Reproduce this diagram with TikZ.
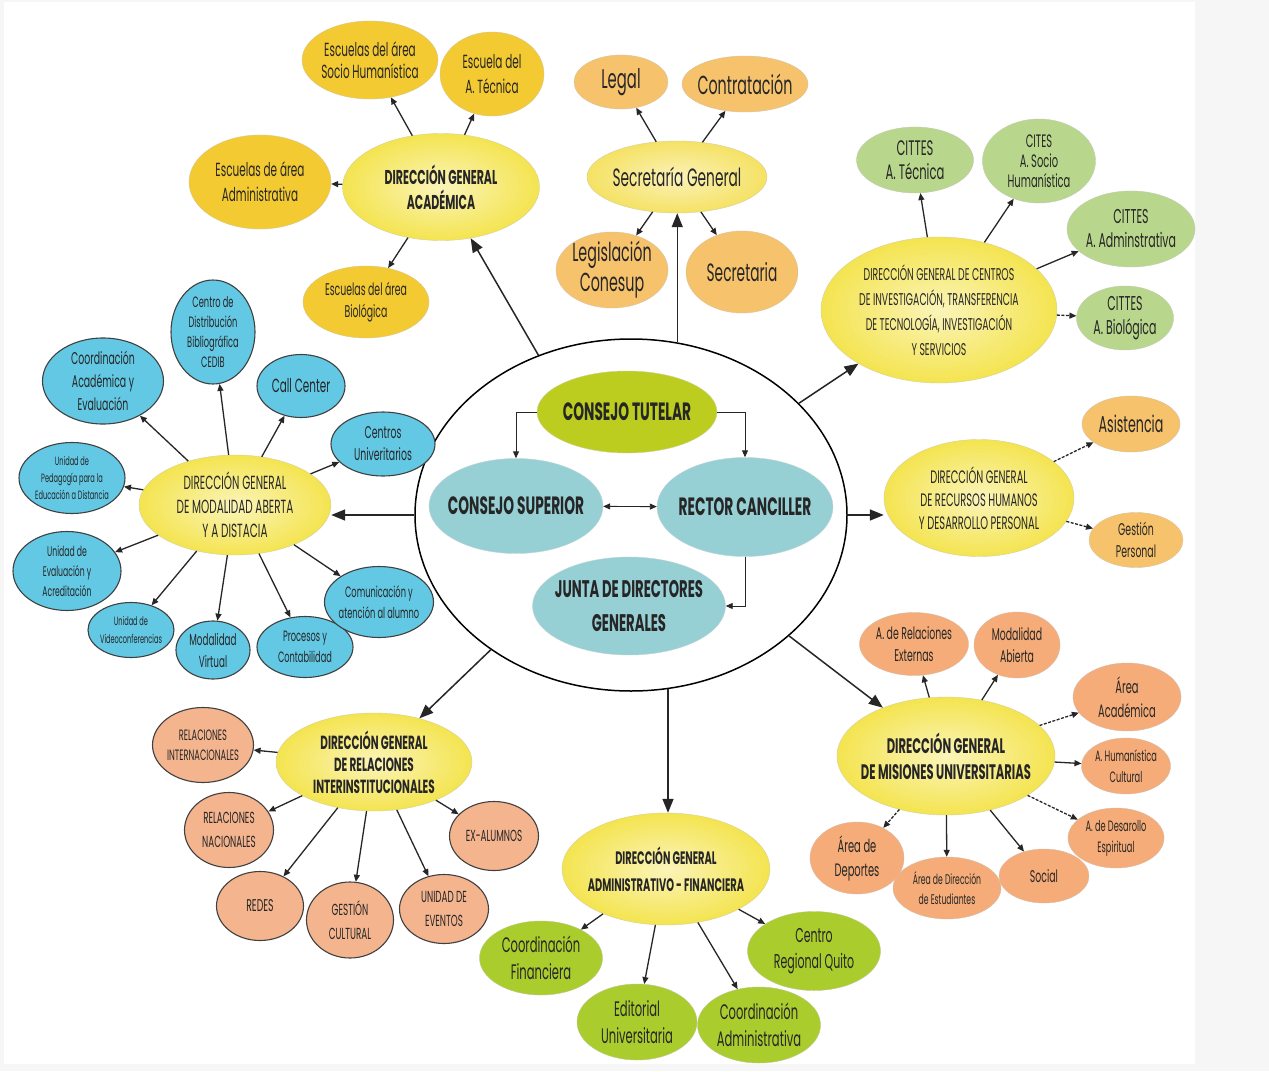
\documentclass[tikz,border=0pt]{standalone}
\usepackage{fontspec}
\setmainfont{Poppins}[FakeStretch=0.55]
\usetikzlibrary{shapes.geometric,arrows.meta}

\definecolor{dgyel}{RGB}{244,228,80}
\definecolor{sgyel}{RGB}{245,226,100}
\definecolor{gold}{RGB}{244,202,50}
\definecolor{peach}{RGB}{246,194,108}
\definecolor{salmon}{RGB}{245,172,120}
\definecolor{salmonr}{RGB}{243,180,142}
\definecolor{sage}{RGB}{184,215,140}
\definecolor{lime}{RGB}{170,205,45}
\definecolor{sky}{RGB}{98,200,228}
\definecolor{teal}{RGB}{150,208,213}
\definecolor{tutelar}{RGB}{188,205,32}
\definecolor{backg}{RGB}{246,246,246}

\newcommand{\fs}[2]{\fontsize{#1}{#2}\selectfont}
% name, style, position, width, height, font, text
\newcommand{\orgnode}[7]{%
  \node[#2, minimum width=#4, minimum height=#5] (#1) at (#3) {};
  \node[txt, font=#6] (#1-t) at (#1) {#7};}

\tikzset{
  bub/.style={ellipse, inner sep=0pt},
  txt/.style={align=center, inner sep=0pt, text=black!85},
  dg/.style={bub, draw=dgyel!70!black!50, shade, shading=radial,
    inner color=dgyel!40!white, outer color=dgyel},
  sgen/.style={bub, draw=sgyel!70!black!50, shade, shading=radial,
    inner color=sgyel!45!white, outer color=sgyel},
  acad/.style={bub, fill=gold, draw=gold!70!black!50},
  secr/.style={bub, fill=peach, draw=peach!70!black!50},
  cittes/.style={bub, fill=sage, draw=sage!70!black!50},
  rrhh/.style={bub, fill=peach, draw=peach!70!black!50},
  mision/.style={bub, fill=salmon, draw=salmon!70!black!50},
  relac/.style={bub, fill=salmonr, draw=black!75, line width=1.1pt},
  admfin/.style={bub, fill=lime, draw=lime!70!black!50},
  abierta/.style={bub, fill=sky, draw=black!75, line width=1.1pt},
  junta/.style={bub, fill=teal, draw=teal!70!black!40},
  tutor/.style={bub, fill=tutelar, draw=tutelar!70!black!40},
  ring/.style={bub, fill=white, draw=black, line width=1.5pt},
  arr/.style={-{Triangle[length=7pt,width=6pt]}, line width=1.3pt, black!85},
  dasharr/.style={arr, dash pattern=on 3pt off 1.5pt},
  thinarr/.style={-{Triangle[length=7pt,width=6pt]}, line width=0.9pt, black!85},
  bigarr/.style={-{Triangle[length=14pt,width=11pt]}, line width=1.5pt, black!85},
}

\begin{document}
\begin{tikzpicture}[x=1pt,y=-1pt]
  % page and margins
  \fill[backg] (0,0) rectangle (1269,1071);
  \fill[white] (4,2) rectangle (1195,1064);
  \useasboundingbox (0,0) rectangle (1269,1071);

  % consejos
  \orgnode{core}{ring}{631,515}{432}{352}{}{}
  \orgnode{ct}{tutor}{627,412}{180}{82}{\fs{25}{30}\bfseries}{CONSEJO TUTELAR}
  \orgnode{cs}{junta}{516,506}{174}{95}{\fs{25}{30}\bfseries}{CONSEJO SUPERIOR}
  \orgnode{rc}{junta}{745,507}{176}{99}{\fs{25}{30}\bfseries}{RECTOR CANCILLER}
  \orgnode{jd}{junta}{629,606}{193}{98}{\fs{24}{34}\bfseries}{JUNTA DE DIRECTORES\\GENERALES}
  \draw[thinarr] (ct.west) -| (cs.north);
  \draw[thinarr] (ct.east) -| (rc.north);
  \draw[thinarr, {Triangle[length=7pt,width=6pt]}-{Triangle[length=7pt,width=6pt]}] (cs) -- (rc);
  \draw[thinarr] (rc.south) |- (jd.east);

  % direcciones generales
  \orgnode{dga}{dg}{441,187}{197}{107}{\fs{20}{25}\bfseries}{DIRECCIÓN GENERAL\\ACADÉMICA}
  \orgnode{sg}{sgen}{677,177}{180}{72}{\fs{25}{30}}{Secretaría General}
  \orgnode{dgc}{dg}{939,310}{236}{146}{\fs{17}{25}}{DIRECCIÓN GENERAL DE CENTROS\\DE INVESTIGACIÓN, TRANSFERENCIA\\DE TECNOLOGÍA, INVESTIGACIÓN\\Y SERVICIOS}
  \orgnode{dgh}{dg}{979,498}{190}{117}{\fs{18}{23}}{DIRECCIÓN GENERAL\\DE RECURSOS HUMANOS\\Y DESARROLLO PERSONAL}
  \orgnode{mis}{dg}{946,756}{218}{118}{\fs{21}{26}\bfseries}{DIRECCIÓN GENERAL\\DE MISIONES UNIVERSITARIAS}
  \orgnode{af}{dg}{666,869}{208}{112}{\fs{18}{27}\bfseries}{DIRECCIÓN GENERAL\\ADMINISTRATIVO - FINANCIERA}
  \orgnode{rel}{dg}{374,762}{196}{98}{\fs{19}{22}\bfseries}{DIRECCIÓN GENERAL\\DE RELACIONES\\INTERINSTITUCIONALES}
  \orgnode{mad}{dg}{235,505}{192}{100}{\fs{19}{24}}{DIRECCIÓN GENERAL\\DE MODALIDAD ABERTA\\Y A DISTACIA}

  \draw[bigarr] (core) -- (dga);
  \draw[bigarr] (core.75) -- (core.75 |- sg.south);
  \draw[bigarr] (core) -- (dgc);
  \draw[bigarr] (core.east) -- (core.east -| dgh.west);
  \draw[bigarr] (core) -- (mis);
  \draw[bigarr] (core.-78) -- (core.-78 |- af.north);
  \draw[bigarr] (core) -- (rel);
  \draw[bigarr] (core.west) -- (core.west -| mad.east);

  % academica
  \orgnode{a1}{acad}{370,60}{136}{78}{\fs{19}{22}}{Escuelas del área\\Socio Humanística}
  \orgnode{a2}{acad}{492,74}{104}{84}{\fs{19}{25}}{Escuela del\\A. Técnica}
  \orgnode{a3}{acad}{260,182}{142}{94}{\fs{19}{25}}{Escuelas de área\\Administrativa}
  \orgnode{a4}{acad}{366,302}{126}{72}{\fs{17}{22}}{Escuelas del área\\Biológica}
  \foreach \k in {a1,a2,a3,a4} \draw[arr] (dga) -- (\k);

  % secretaria
  \orgnode{s1}{secr}{621,82}{94}{54}{\fs{27}{30}}{Legal}
  \orgnode{s2}{secr}{745,84}{126}{56}{\fs{26}{30}}{Contratación}
  \orgnode{s3}{secr}{612,270}{112}{76}{\fs{26}{30}}{Legislación\\Conesup}
  \orgnode{s4}{secr}{742,272}{112}{82}{\fs{25}{30}}{Secretaria}
  \foreach \k in {s1,s2,s3,s4} \draw[arr] (sg) -- (\k);

  % centros de investigacion
  \orgnode{c1}{cittes}{915,160}{117}{66}{\fs{21}{24}}{CITTES\\A. Técnica}
  \orgnode{c2}{cittes}{1039,161}{113}{84}{\fs{18}{20}}{CITES\\A. Socio\\Humanística}
  \orgnode{c3}{cittes}{1131,229}{128}{76}{\fs{20}{24}}{CITTES\\A. Adminstrativa}
  \orgnode{c4}{cittes}{1125,318}{97}{64}{\fs{20}{24}}{CITTES\\A. Biológica}
  \foreach \k in {c1,c2,c3} \draw[arr] (dgc) -- (\k);
  \draw[dasharr] (dgc) -- (c4);

  % recursos humanos
  \orgnode{h1}{rrhh}{1131,424}{98}{56}{\fs{23}{28}}{Asistencia}
  \orgnode{h2}{rrhh}{1136,540}{94}{55}{\fs{17}{22}}{Gestión\\Personal}
  \foreach \k in {h1,h2} \draw[dasharr] (dgh) -- (\k);

  % misiones universitarias
  \orgnode{m1}{mision}{914,644}{109}{63}{\fs{17}{22}}{A. de Relaciones\\Externas}
  \orgnode{m2}{mision}{1017,645}{86}{66}{\fs{17}{22}}{Modalidad\\Abierta}
  \orgnode{m3}{mision}{1127,697}{108}{68}{\fs{18}{24}}{Área\\Académica}
  \orgnode{m4}{mision}{1126,766}{89}{56}{\fs{15}{21}}{A. Humanística\\Cultural}
  \orgnode{m5}{mision}{1116,838}{96}{60}{\fs{15}{21}}{A. de Desarollo\\Espiritual}
  \orgnode{m6}{mision}{1044,876}{90}{54}{\fs{17}{22}}{Social}
  \orgnode{m7}{mision}{947,888}{108}{62}{\fs{14}{20}}{Área de Dirección\\de Estudiantes}
  \orgnode{m8}{mision}{857,858}{94}{72}{\fs{18}{24}}{Área de\\Deportes}
  \foreach \k in {m1,m2,m4,m6,m7} \draw[arr] (mis) -- (\k);
  \foreach \k in {m3,m5,m8} \draw[dasharr] (mis) -- (\k);

  % administrativo - financiera
  \orgnode{f1}{admfin}{541,958}{123}{74}{\fs{21}{27}}{Coordinación\\Financiera}
  \orgnode{f2}{admfin}{637,1022}{120}{76}{\fs{21}{27}}{Editorial\\Universitaria}
  \orgnode{f3}{admfin}{759,1025}{123}{76}{\fs{21}{27}}{Coordinación\\Administrativa}
  \orgnode{f4}{admfin}{814,951}{133}{79}{\fs{20}{26}}{Centro\\Regional Quito}
  \foreach \k in {f1,f2,f3,f4} \draw[arr] (af) -- (\k);

  % relaciones interinstitucionales
  \orgnode{r1}{relac}{203,745}{101}{75}{\fs{15}{20}}{RELACIONES\\INTERNACIONALES}
  \orgnode{r2}{relac}{229,830}{89}{75}{\fs{16}{24}}{RELACIONES\\NACIONALES}
  \orgnode{r3}{relac}{260,906}{87}{69}{\fs{17}{22}}{REDES}
  \orgnode{r4}{relac}{350,920}{87}{76}{\fs{16}{24}}{GESTIÓN\\CULTURAL}
  \orgnode{r5}{relac}{444,909}{89}{69}{\fs{16}{24}}{UNIDAD DE\\EVENTOS}
  \orgnode{r6}{relac}{494,836}{89}{69}{\fs{16}{22}}{EX-ALUMNOS}
  \foreach \k in {r1,r2,r3,r4,r5,r6} \draw[arr] (rel) -- (\k);

  % modalidad abierta y a distancia
  \orgnode{d1}{abierta}{213,332}{84}{104}{\fs{15}{20}}{Centro de\\Distribución\\Bibliográfica\\CEDIB}
  \orgnode{d2}{abierta}{301,386}{88}{63}{\fs{19}{24}}{Call Center}
  \orgnode{d3}{abierta}{103,381}{121}{86}{\fs{17}{23}}{Coordinación\\Académica y\\Evaluación}
  \orgnode{d4}{abierta}{72,478}{106}{71}{\fs{12}{17}}{Unidad de\\Pedagogía para la\\Educación a Distancia}
  \orgnode{d5}{abierta}{67,571}{108}{79}{\fs{14}{20}}{Unidad de\\Evaluación y\\Acreditación}
  \orgnode{d6}{abierta}{131,630}{86}{55}{\fs{12}{18}}{Unidad de\\Videoconferencias}
  \orgnode{d7}{abierta}{213,650}{74}{58}{\fs{16}{22}}{Modalidad\\Virtual}
  \orgnode{d8}{abierta}{305,647}{96}{61}{\fs{15}{21}}{Procesos y\\Contabilidad}
  \orgnode{d9}{abierta}{379,602}{109}{71}{\fs{15}{21}}{Comunicación y\\atención al alumno}
  \orgnode{d10}{abierta}{383,444}{104}{64}{\fs{17}{22}}{Centros\\Univeritarios}
  \foreach \k in {d1,d2,d3,d4,d5,d6,d7,d8,d9,d10} \draw[arr] (mad) -- (\k);
\end{tikzpicture}
\end{document}
